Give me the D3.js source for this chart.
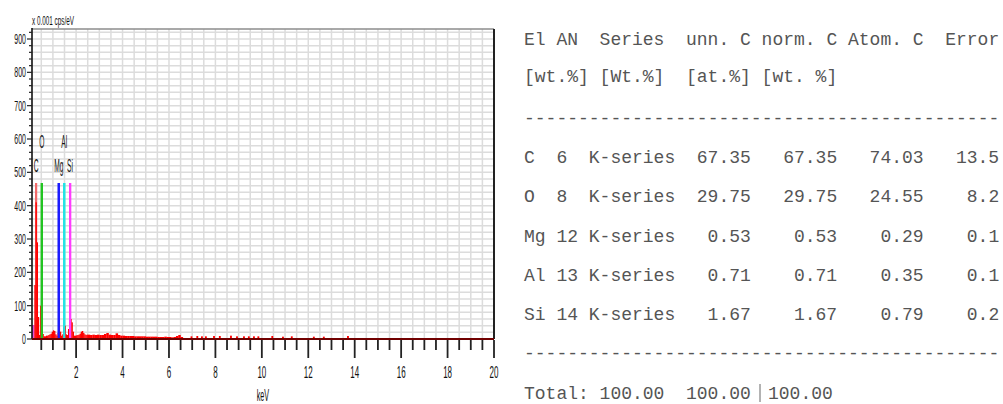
<!DOCTYPE html>
<html>
<head>
<meta charset="utf-8">
<script src="https://cdn.jsdelivr.net/npm/d3@7"></script>
<style>
  html, body { margin: 0; padding: 0; background: #fff; }
  svg { display: block; }
  .lbl { font-family: "Liberation Sans", Arial, sans-serif; fill: #111; }
  .tbl { font-family: "Liberation Mono", "Courier New", monospace; fill: #555; font-size: 18px; white-space: pre; }
</style>
</head>
<body>
<svg id="chart" width="1003" height="404"></svg>
<script>
// ---- Spectrum data (counts in units of 0.001 cps/eV) ----
// Low-energy bins, 0.05 keV wide, starting at 0.20 keV
const lowStart = 0.20, lowStep = 0.05;
const lowCounts = [162, 410, 290, 66, 12, 100, 142, 15, 8, 8,
                   10, 10, 12, 14, 16, 22, 26, 24, 14, 10,
                   18, 40, 22, 10, 14, 35, 40, 14, 12, 30,
                   45, 60, 50, 22, 10, 10, 11, 12, 13, 16,
                   22, 24, 18, 14, 12, 13];
// Noise peak at the lower limit of the energy range
const noiseStart = 0.10, noiseStep = 0.05;
const noiseCounts = [42, 42];
// Mid-energy continuum, 0.1 keV bins starting at 2.5 keV
const midStart = 2.5, midStep = 0.1;
const midCounts = [13, 12, 13, 12, 13, 12, 12, 15, 18, 13,
                   12, 12, 17, 12, 10, 10, 9, 9, 9, 9,
                   8, 8, 8, 8, 8, 7, 7, 7, 7, 7,
                   6, 6, 6, 7, 6, 6, 5, 6, 9, 12, 6];
// Isolated counts above 6.6 keV
const spikeEnergy = [6.93, 7.18, 7.38, 7.55, 7.90, 8.15, 8.63, 8.89, 9.19,
                     9.40, 9.62, 9.81, 10.41, 10.87, 11.25, 12.20, 12.63, 13.67];
const spikeCounts = [8, 9, 8, 8, 9, 9, 10, 8, 8, 8, 8, 8, 9, 7, 8, 7, 7, 9];
const spikeWidth = 0.08;

// ---- Element line markers ----
const elements   = ["C", "O", "Mg", "Al", "Si"];
const lineEnergy = [0.277, 0.525, 1.254, 1.487, 1.740];
const lineColor  = ["#f26a6a", "#22c422", "#1a1aff", "#22e4e4", "#ff3cff"];
const labelRow   = [0, 1, 0, 1, 0];   // 0 = lower label row, 1 = upper
const markerHeight = 468;

// ---- Axes ----
const xTicks = [2, 4, 6, 8, 10, 12, 14, 16, 18, 20];
const yTicks = [0, 100, 200, 300, 400, 500, 600, 700, 800, 900];

// ---- Quantification table ----
const tableHeader = ["El AN  Series  unn. C norm. C Atom. C  Error",
                     "[wt.%] [Wt.%]  [at.%] [wt. %]"];
const tEl     = ["C", "O", "Mg", "Al", "Si"];
const tAN     = [6, 8, 12, 13, 14];
const tSeries = ["K-series", "K-series", "K-series", "K-series", "K-series"];
const tUnn    = ["67.35", "29.75", "0.53", "0.71", "1.67"];
const tNorm   = ["67.35", "29.75", "0.53", "0.71", "1.67"];
const tAtom   = ["74.03", "24.55", "0.29", "0.35", "0.79"];
const tErr    = ["13.5", "8.2", "0.1", "0.1", "0.2"];
const tTotal  = ["100.00", "100.00", "100.00"];

const svg = d3.select("#chart");
const W = 1003, H = 404;
svg.append("rect").attr("width", W).attr("height", H).attr("fill", "#fff");

const plot = { left: 32, right: 494, top: 29, bottom: 339 };
const x = d3.scaleLinear().domain([0.1, 20]).range([plot.left, plot.right]);
const y = d3.scaleLinear().domain([0, 930]).range([plot.bottom, plot.top]);

// condensed text helper
function ctext(parent, px, py, str, size, sx, anchor) {
  return parent.append("text")
    .attr("class", "lbl")
    .attr("transform", `translate(${px},${py}) scale(${sx},1)`)
    .attr("text-anchor", anchor)
    .style("font-size", size + "px")
    .text(str);
}

// grid
const grid = svg.append("g");
grid.selectAll("line.v").data(d3.range(0.5, 20, 0.5)).join("line")
  .attr("x1", d => x(d)).attr("x2", d => x(d))
  .attr("y1", plot.top).attr("y2", plot.bottom)
  .attr("stroke", "#dcdcdc").attr("stroke-width", 1.5);
grid.selectAll("line.h").data(d3.range(20, 930, 20)).join("line")
  .attr("x1", plot.left).attr("x2", plot.right)
  .attr("y1", d => y(d)).attr("y2", d => y(d))
  .attr("stroke", "#dcdcdc").attr("stroke-width", 1.5);

// element markers behind the spectrum
const mk = svg.append("g");
elements.forEach((el, i) => {
  mk.append("line")
    .attr("x1", x(lineEnergy[i])).attr("x2", x(lineEnergy[i]))
    .attr("y1", y(0)).attr("y2", y(markerHeight))
    .attr("stroke", lineColor[i]).attr("stroke-width", 2.2);
  ctext(mk, x(lineEnergy[i]), labelRow[i] ? 148 : 172, el, 18, 0.37, "middle");
});

// spectrum
const spec = svg.append("g");
function bars(counts, start, step, color) {
  spec.append("g").selectAll("rect").data(counts).join("rect")
    .attr("x", (d, i) => x(start + i * step))
    .attr("width", (d, i) => x(start + (i + 1) * step) - x(start + i * step) + 0.2)
    .attr("y", d => y(d))
    .attr("height", d => y(0) - y(d))
    .attr("fill", color);
}
bars(noiseCounts, noiseStart, noiseStep, "#e040d8");
bars(lowCounts, lowStart, lowStep, "#ff0000");
bars(midCounts, midStart, midStep, "#ff0000");
spec.append("g").selectAll("rect").data(spikeCounts).join("rect")
  .attr("x", (d, i) => x(spikeEnergy[i]))
  .attr("width", x(spikeWidth) - x(0))
  .attr("y", d => y(d))
  .attr("height", d => y(0) - y(d))
  .attr("fill", "#ff0000");

// O, Mg, Al and Si lines stay visible over the spectrum
const mkTop = svg.append("g");
elements.forEach((el, i) => {
  if (i === 0) return;
  mkTop.append("line")
    .attr("x1", x(lineEnergy[i])).attr("x2", x(lineEnergy[i]))
    .attr("y1", y(0)).attr("y2", y(markerHeight))
    .attr("stroke", lineColor[i]).attr("stroke-width", 2.2);
});

// frame
svg.append("line").attr("x1", plot.left).attr("x2", plot.right)
  .attr("y1", plot.top).attr("y2", plot.top).attr("stroke", "#8c8c8c").attr("stroke-width", 1.5);
svg.append("line").attr("x1", plot.right).attr("x2", plot.right)
  .attr("y1", plot.top).attr("y2", plot.bottom).attr("stroke", "#222").attr("stroke-width", 2);
svg.append("line").attr("x1", plot.left).attr("x2", plot.left)
  .attr("y1", plot.top - 1).attr("y2", plot.bottom).attr("stroke", "#111").attr("stroke-width", 1.6);
svg.append("line").attr("x1", plot.left).attr("x2", plot.right)
  .attr("y1", plot.bottom).attr("y2", plot.bottom).attr("stroke", "#700000").attr("stroke-width", 2);

// y axis ticks
const ya = svg.append("g");
ya.selectAll("line").data(d3.range(0, 930, 20)).join("line")
  .attr("x1", d => d % 100 === 0 ? plot.left - 5 : plot.left - 3).attr("x2", plot.left)
  .attr("y1", d => y(d)).attr("y2", d => y(d))
  .attr("stroke", "#222").attr("stroke-width", 1.2);
yTicks.forEach(v => ctext(ya, 26, y(v) + 5, String(v), 14, 0.5, "end"));
ctext(svg, plot.left, 25, "x 0.001 cps/eV", 13.5, 0.47, "start");

// x axis ticks
const xa = svg.append("g");
xa.selectAll("line").data(d3.range(0.5, 20.01, 0.5)).join("line")
  .attr("x1", d => x(d)).attr("x2", d => x(d))
  .attr("y1", plot.bottom + 1)
  .attr("y2", d => Math.abs(d % 2) < 1e-9 ? plot.bottom + 19 : plot.bottom + 11)
  .attr("stroke", "#222").attr("stroke-width", 1.8);
xTicks.forEach(v => ctext(xa, x(v), 378, String(v), 16, 0.5, "middle"));
ctext(svg, x(10) + 1, 401, "keV", 16, 0.45, "middle");

// ---- Table (fixed-pitch layout, one text per word) ----
const tb = svg.append("g");
const col0 = 524, cw = 10.8;   // monospace cell width at 18px
function ttext(px, py, str, anchor) {
  return tb.append("text").attr("class", "tbl")
    .attr("x", px).attr("y", py)
    .attr("text-anchor", anchor || "start")
    .text(str);
}
// place each space-separated word of a fixed-pitch line at its column
function tline(str, py) {
  const re = /\S+/g;
  let m;
  while ((m = re.exec(str)) !== null) ttext(col0 + m.index * cw, py, m[0]);
}
tline(tableHeader[0], 45);
tline(tableHeader[1], 82);
const dashes = "-".repeat(44);
ttext(col0, 124, dashes);
const rowY = [163, 202, 242, 281, 320];
tEl.forEach((e, i) => {
  const ry = rowY[i];
  ttext(col0, ry, e);
  ttext(col0 + 3 * cw, ry, String(tAN[i]));
  ttext(col0 + 6 * cw, ry, tSeries[i]);
  ttext(col0 + 21 * cw, ry, tUnn[i], "end");
  ttext(col0 + 29 * cw, ry, tNorm[i], "end");
  ttext(col0 + 37 * cw, ry, tAtom[i], "end");
  ttext(col0 + 44 * cw, ry, tErr[i], "end");
});
ttext(col0, 359, dashes);
tline(`Total: ${tTotal[0]}  ${tTotal[1]}`, 399);
tb.append("line").attr("x1", 760).attr("x2", 760).attr("y1", 384).attr("y2", 402)
  .attr("stroke", "#666").attr("stroke-width", 1);
ttext(768, 399, tTotal[2]);
</script>
</body>
</html>
